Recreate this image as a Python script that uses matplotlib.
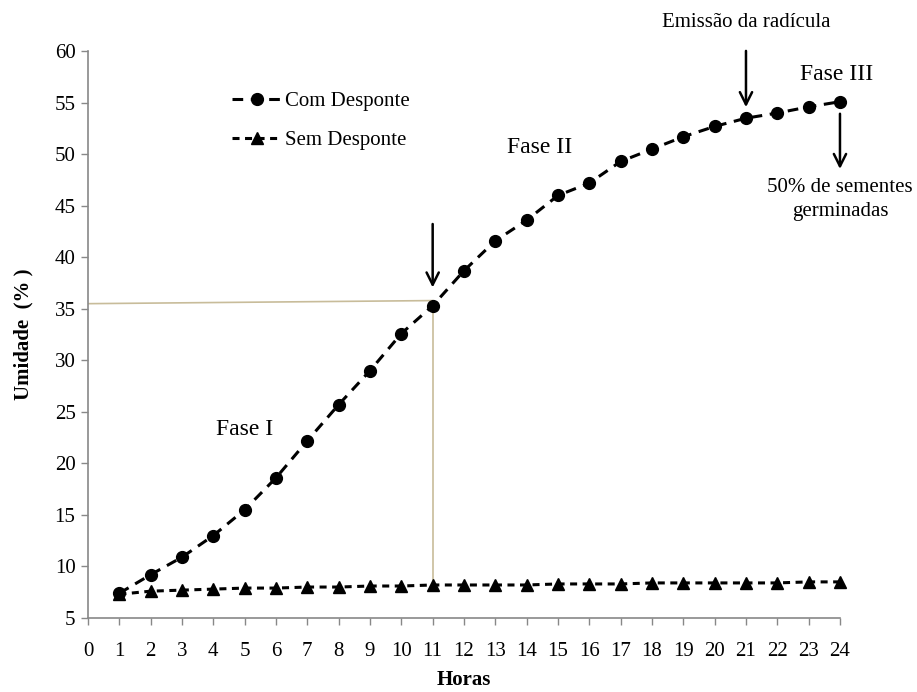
import matplotlib
matplotlib.use("Agg")
import matplotlib.pyplot as plt

plt.rcParams['font.family'] = ['Liberation Serif', 'DejaVu Serif']

horas = list(range(1, 25))
com_desponte = [7.4, 9.2, 10.9, 13.0, 15.5, 18.6, 22.2, 25.7, 29.0, 32.6, 35.3, 38.7,
                41.6, 43.6, 46.0, 47.2, 49.3, 50.5, 51.7, 52.7, 53.5, 54.0, 54.6, 55.1]
sem_desponte = [7.3, 7.6, 7.7, 7.8, 7.9, 7.9, 8.0, 8.0, 8.1, 8.1, 8.2, 8.2,
                8.2, 8.2, 8.3, 8.3, 8.3, 8.4, 8.4, 8.4, 8.4, 8.4, 8.5, 8.5]
x_ticks = list(range(0, 25))
y_ticks = list(range(5, 61, 5))

fig = plt.figure(figsize=(9.17, 6.92), dpi=100)
ax = fig.add_axes([0.096, 0.107, 0.82, 0.819])

guide = '#c8bc9a'
# reference lines at the 11 h point
ax.plot([0, 11], [35.5, 35.8], color=guide, lw=1.2, zorder=1)
ax.plot([11, 11], [35.8, sem_desponte[10]], color=guide, lw=1.2, zorder=1)

ax.plot(horas, com_desponte, color='black', lw=2.2, dashes=(3.5, 2.5),
        marker='o', ms=8.5, label='Com Desponte', clip_on=False, zorder=3)
ax.plot(horas, sem_desponte, color='black', lw=2.2, dashes=(2.3, 1.8),
        marker='^', ms=8.5, label='Sem Desponte', clip_on=False, zorder=3)

ax.set_xlim(0, 24)
ax.set_ylim(5, 60)
ax.set_xticks(x_ticks)
ax.set_yticks(y_ticks)
ax.tick_params(axis='both', labelsize=15, color='#888888', length=5, width=1, direction='out')
ax.tick_params(axis='x', pad=12)
ax.tick_params(axis='y', pad=4)
for s in ['top', 'right']:
    ax.spines[s].set_visible(False)
for s in ['left', 'bottom']:
    ax.spines[s].set_color('#888888')
    ax.spines[s].set_linewidth(1.2)

ax.set_xlabel('Horas', fontsize=15, fontweight='bold', labelpad=7)
ax.set_ylabel('Umidade  (% )', fontsize=15, fontweight='bold', labelpad=15)

arrow = dict(arrowstyle='->', color='black', lw=1.8, mutation_scale=22)
ax.annotate('', xy=(11, 36.8), xytext=(11, 43.5), arrowprops=arrow)
ax.annotate('', xy=(21, 54.3), xytext=(21, 60.3), arrowprops=arrow, annotation_clip=False)
ax.annotate('', xy=(24, 48.3), xytext=(24, 54.2), arrowprops=arrow, annotation_clip=False)

ax.text(21, 62.8, 'Emissão da radícula', fontsize=15, ha='center', va='center', clip_on=False)
ax.text(23.9, 57.7, 'Fase III', fontsize=17, ha='center', va='center', clip_on=False)
ax.text(24, 45.6, '50% de sementes\ngerminadas', fontsize=15, ha='center', va='center',
        linespacing=1.3, clip_on=False)
ax.text(14.4, 50.7, 'Fase II', fontsize=17, ha='center', va='center')
ax.text(5.0, 23.3, 'Fase I', fontsize=17, ha='center', va='center')

ax.legend(loc='upper left', bbox_to_anchor=(0.167, 0.962), frameon=False, fontsize=15,
          handlelength=2.4, handletextpad=0.15, labelspacing=0.95)

fig.savefig('out.png', dpi=100)
